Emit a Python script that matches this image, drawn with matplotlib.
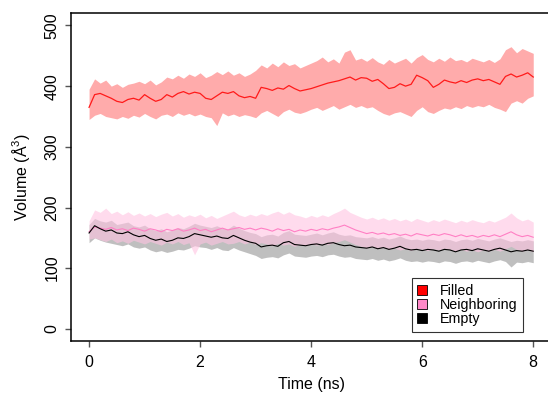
import numpy as np
import matplotlib
matplotlib.use("Agg")
import matplotlib.pyplot as plt
from matplotlib.patches import Patch

plt.rcParams['font.family'] = ['Liberation Sans', 'DejaVu Sans']
plt.rcParams['mathtext.fontset'] = 'custom'
plt.rcParams['mathtext.rm'] = 'Liberation Sans'
plt.rcParams['mathtext.it'] = 'Liberation Sans'

# Simulation time (ns), sampled every 0.1 ns
time_ns = np.round(np.arange(0, 81) * 0.1, 1)

# Cavity volume (A^3): running mean and min/max envelope per cavity class
filled_mean = [365, 386, 388, 384, 380, 375, 373, 378, 380, 377,
               386, 380, 375, 378, 386, 382, 388, 391, 387, 390,
               388, 380, 378, 384, 390, 388, 391, 384, 381, 383,
               380, 398, 396, 393, 397, 395, 401, 396, 392, 394,
               396, 399, 402, 405, 407, 409, 412, 415, 410, 414,
               413, 408, 411, 404, 396, 398, 404, 400, 403, 418,
               414, 409, 398, 403, 410, 407, 405, 409, 406, 410,
               412, 409, 411, 407, 403, 416, 420, 415, 418, 422, 415]
filled_hi = [395, 412, 405, 410, 400, 404, 398, 403, 405, 408,
             404, 410, 402, 407, 415, 412, 418, 413, 420, 416,
             422, 414, 418, 424, 419, 425, 418, 422, 416, 420,
             426, 435, 430, 438, 432, 440, 434, 437, 430, 434,
             438, 442, 448, 440, 445, 438, 456, 460, 443, 446,
             441, 447, 440, 436, 444, 438, 442, 446, 438, 447,
             452, 444, 440, 446, 441, 448, 442, 444, 440, 446,
             443, 440, 444, 439, 445, 460, 465, 455, 462, 458, 454]
filled_lo = [345, 352, 355, 350, 348, 346, 350, 347, 352, 349,
             355, 350, 346, 352, 354, 350, 356, 352, 355, 351,
             354, 350, 348, 335, 356, 351, 354, 350, 353, 351,
             348, 356, 360, 355, 350, 358, 362, 357, 355, 358,
             362, 365, 360, 364, 368, 362, 366, 370, 365, 368,
             364, 366, 360, 355, 352, 356, 358, 354, 350, 360,
             366, 358, 355, 360, 364, 362, 366, 363, 368, 365,
             368, 366, 370, 365, 362, 358, 372, 376, 372, 380, 384]

neigh_mean = [160, 168, 166, 164, 167, 163, 165, 162, 166, 164,
              161, 165, 163, 160, 164, 162, 165, 161, 163, 166,
              162, 164, 160, 163, 166, 163, 165, 167, 164, 166,
              163, 166, 164, 161, 165, 162, 164, 160, 163, 161,
              164, 162, 165, 163, 166, 168, 171, 167, 163, 160,
              157, 159, 156, 158, 155, 157, 154, 156, 153, 157,
              155, 153, 156, 154, 157, 155, 152, 155, 152, 154,
              151, 154, 152, 155, 152, 156, 160, 155, 152, 154, 151]
neigh_hi = [178, 196, 192, 199, 190, 194, 188, 193, 187, 191,
            186, 190, 185, 189, 192, 186, 190, 184, 188, 185,
            189, 183, 187, 182, 186, 190, 194, 188, 185, 189,
            186, 190, 187, 191, 194, 189, 193, 188, 186, 183,
            187, 184, 188, 185, 190, 194, 199, 192, 188, 184,
            181, 184, 180, 183, 179, 182, 178, 181, 177, 182,
            179, 176, 180, 177, 181, 178, 175, 179, 176, 180,
            177, 175, 179, 176, 180, 184, 191, 183, 178, 181, 176]
neigh_lo = [148, 150, 147, 144, 148, 142, 145, 141, 146, 143,
            140, 144, 141, 138, 143, 140, 144, 139, 142, 122,
            140, 143, 138, 141, 144, 140, 141, 144, 140, 143,
            139, 142, 140, 137, 141, 138, 140, 136, 139, 137,
            140, 138, 141, 139, 142, 144, 147, 143, 139, 136,
            133, 135, 132, 134, 131, 133, 130, 132, 129, 133,
            131, 129, 132, 130, 133, 131, 128, 131, 128, 130,
            127, 130, 128, 131, 128, 132, 136, 131, 128, 130, 127]

empty_mean = [158, 170, 165, 161, 163, 158, 157, 160, 155, 152,
              154, 149, 146, 148, 144, 146, 150, 149, 152, 157,
              155, 153, 151, 153, 150, 149, 154, 150, 146, 143,
              141, 135, 137, 138, 136, 142, 144, 139, 138, 137,
              139, 140, 138, 141, 142, 139, 137, 138, 135, 134,
              133, 135, 132, 134, 131, 133, 136, 132, 130, 131,
              129, 131, 130, 128, 131, 130, 127, 130, 131, 129,
              132, 130, 128, 131, 133, 130, 127, 129, 128, 130, 128]
empty_hi = [172, 182, 178, 176, 179, 172, 174, 176, 170, 168,
            171, 165, 162, 165, 160, 163, 167, 165, 169, 174,
            171, 169, 167, 170, 166, 165, 171, 166, 162, 159,
            157, 152, 155, 156, 153, 159, 162, 156, 155, 154,
            156, 158, 155, 158, 160, 156, 154, 155, 152, 151,
            150, 152, 149, 151, 148, 150, 153, 149, 147, 148,
            146, 148, 147, 145, 148, 147, 144, 147, 148, 146,
            149, 147, 145, 148, 150, 147, 144, 146, 145, 147, 145]
empty_lo = [142, 150, 146, 143, 141, 139, 137, 140, 135, 133,
            135, 130, 127, 129, 126, 128, 131, 130, 133, 137,
            135, 134, 131, 134, 130, 129, 134, 130, 127, 124,
            121, 116, 118, 119, 117, 122, 125, 120, 119, 118,
            120, 121, 119, 122, 123, 120, 118, 119, 116, 115,
            114, 116, 113, 115, 112, 114, 117, 113, 111, 112,
            110, 112, 111, 109, 112, 111, 108, 111, 112, 110,
            113, 111, 109, 112, 114, 111, 102, 110, 109, 111, 109]

labels = ['Filled', 'Neighboring', 'Empty']
line_colors = ['#FF1A1A', '#FF7FC4', '#000000']
band_colors = ['#FFABAB', '#FFC4E2', '#B4B4B4']
legend_colors = ['#FF0000', '#FF88C8', '#000000']

fig = plt.figure(figsize=(5.48, 3.94), dpi=100)
ax = fig.add_axes([0.1301, 0.1345, 0.8754, 0.8317])

# envelopes first (empty, neighboring, filled), then the running means
ax.fill_between(time_ns, empty_lo, empty_hi, color=band_colors[2], alpha=0.85, lw=0, zorder=1)
ax.fill_between(time_ns, neigh_lo, neigh_hi, color=band_colors[1], alpha=0.6, lw=0, zorder=1.2)
ax.fill_between(time_ns, filled_lo, filled_hi, color=band_colors[0], alpha=1.0, lw=0, zorder=1)
ax.plot(time_ns, neigh_mean, color=line_colors[1], lw=0.8, zorder=3)
ax.plot(time_ns, empty_mean, color=line_colors[2], lw=0.8, zorder=3)
ax.plot(time_ns, filled_mean, color=line_colors[0], lw=0.9, zorder=3)

ax.set_xlim(-0.32, 8.32)
ax.set_ylim(-20, 520)
ax.set_xticks([0, 2, 4, 6, 8])
ax.set_yticks([0, 100, 200, 300, 400, 500])
ax.spines['right'].set_visible(False)
for s in ['left', 'top', 'bottom']:
    ax.spines[s].set_linewidth(1.1)
ax.tick_params(direction='out', length=4.5, width=1.0, color='#555555',
               labelsize=11.5)
ax.tick_params(axis='x', pad=5.5)
ax.tick_params(axis='y', pad=4)
for lbl in ax.get_yticklabels():
    lbl.set_rotation(90)
    lbl.set_va('center')

ax.set_xlabel('Time (ns)', fontsize=11.5, labelpad=5)
ax.set_ylabel('Volume (Å$^3$)', fontsize=11.5, labelpad=9)

handles = [Patch(facecolor=c, edgecolor='black', lw=0.6) for c in legend_colors]
leg = ax.legend(handles, labels, loc='lower left', bbox_to_anchor=(0.7096, 0.0284),
                borderaxespad=0, fontsize=10.3, frameon=True, fancybox=False,
                edgecolor='black', handlelength=0.65, handleheight=0.65,
                handletextpad=0.9, labelspacing=0.0, borderpad=0.4)
leg.get_frame().set_linewidth(0.8)

fig.savefig('out.png', dpi=100)
